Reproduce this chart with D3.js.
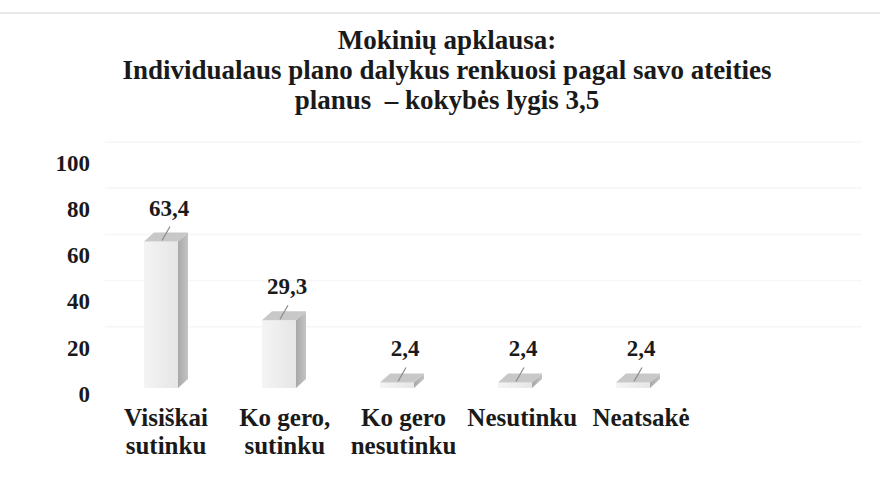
<!DOCTYPE html>
<html>
<head>
<meta charset="utf-8">
<script src="https://cdn.jsdelivr.net/npm/d3@7"></script>
<style>
  body { margin: 0; background: #fff; }
</style>
</head>
<body>
<svg id="chart" width="880" height="485" font-family="'Liberation Serif', 'DejaVu Serif', serif" font-weight="bold"></svg>
<script>
// data
const titleLines = ["Mokinių apklausa:", "Individualaus plano dalykus renkuosi pagal savo ateities", "planus  – kokybės lygis 3,5"];
const categories = ["Visiškai sutinku", "Ko gero, sutinku", "Ko gero nesutinku", "Nesutinku", "Neatsakė"];
const catLines = [["Visiškai", "sutinku"], ["Ko gero,", "sutinku"], ["Ko gero", "nesutinku"], ["Nesutinku"], ["Neatsakė"]];
const values = [63.4, 29.3, 2.4, 2.4, 2.4];
const yTicks = [0, 20, 40, 60, 80, 100];

const svg = d3.select("#chart");
const W = 880, H = 485;
const barW = 34, depthX = 10, depthY = 9;
const ink = "#1a1a1a";

const fmt = d3.formatLocale({decimal: ",", thousands: " ", grouping: [3], currency: ["", ""]}).format(".1f");

const x = d3.scalePoint().domain(categories).range([161, 633]);
const xLab = d3.scalePoint().domain(categories).range([166, 641]);
const y = d3.scaleLinear().domain([0, 100]).range([388, 157]);

// scan border
svg.append("line").attr("x1", 0).attr("x2", W).attr("y1", 13).attr("y2", 13)
   .attr("stroke", "#e2e2e2").attr("stroke-width", 1.5);

// back wall gridlines (very faint)
svg.append("g").selectAll("line").data(yTicks.slice(1)).enter().append("line")
   .attr("x1", 105).attr("x2", 862)
   .attr("y1", d => y(d) - 15).attr("y2", d => y(d) - 15)
   .attr("stroke", "#f6f6f6").attr("stroke-width", 1.5);

// title
svg.append("g").selectAll("text").data(titleLines).enter().append("text")
   .attr("x", 447).attr("y", (d, i) => 49 + i * 30)
   .attr("text-anchor", "middle").attr("font-size", 27).attr("fill", ink)
   .attr("xml:space", "preserve")
   .text(d => d);

// y axis labels
const yAxis = d3.axisLeft(y).tickValues(yTicks).tickSize(0).tickPadding(0);
const gy = svg.append("g").attr("transform", "translate(90,6)").call(yAxis)
   .attr("font-family", null).attr("font-size", null);
gy.select(".domain").remove();
gy.selectAll("text").attr("font-size", 23).attr("fill", ink);

// bars
const defs = svg.append("defs");
const gFront = defs.append("linearGradient").attr("id", "front");
gFront.append("stop").attr("offset", "0%").attr("stop-color", "#f4f4f4");
gFront.append("stop").attr("offset", "100%").attr("stop-color", "#e6e6e6");
const gSide = defs.append("linearGradient").attr("id", "side");
gSide.append("stop").attr("offset", "0%").attr("stop-color", "#a8a8a8");
gSide.append("stop").attr("offset", "100%").attr("stop-color", "#c4c4c4");

const bars = svg.append("g").selectAll("g").data(categories).enter().append("g");
bars.append("rect")
   .attr("x", d => x(d) - barW / 2).attr("y", (d, i) => y(values[i]))
   .attr("width", barW).attr("height", (d, i) => y(0) - y(values[i]))
   .attr("fill", "url(#front)");
bars.append("path")
   .attr("d", (d, i) => {
     const r = x(d) + barW / 2, t = y(values[i]), b = y(0);
     return `M${r},${t}L${r + depthX},${t - depthY}L${r + depthX},${b - depthY}L${r},${b}Z`;
   })
   .attr("fill", "url(#side)");
bars.append("path")
   .attr("d", (d, i) => {
     const l = x(d) - barW / 2, r = x(d) + barW / 2, t = y(values[i]);
     return `M${l},${t}L${l + depthX},${t - depthY}L${r + depthX},${t - depthY}L${r},${t}Z`;
   })
   .attr("fill", "#c8c8c8");

// leader lines and value labels
bars.append("line")
   .attr("x1", d => x(d) + 1).attr("y1", (d, i) => y(values[i]) - 1)
   .attr("x2", d => x(d) + 9).attr("y2", (d, i) => y(values[i]) - 15)
   .attr("stroke", "#8a8a8a").attr("stroke-width", 1.2);
bars.append("text")
   .attr("x", d => x(d) + 8).attr("y", (d, i) => y(values[i]) - 26)
   .attr("text-anchor", "middle").attr("font-size", 23).attr("fill", ink)
   .text((d, i) => fmt(values[i]));

// category labels
const cat = svg.append("g").selectAll("text").data(categories).enter().append("text")
   .attr("x", d => xLab(d)).attr("y", 426)
   .attr("text-anchor", "middle").attr("font-size", 25).attr("fill", ink);
cat.selectAll("tspan").data((d, i) => catLines[i]).enter().append("tspan")
   .attr("x", function () { return d3.select(this.parentNode).attr("x"); })
   .attr("dy", (d, i) => i === 0 ? 0 : 28)
   .text(d => d);
</script>
</body>
</html>
